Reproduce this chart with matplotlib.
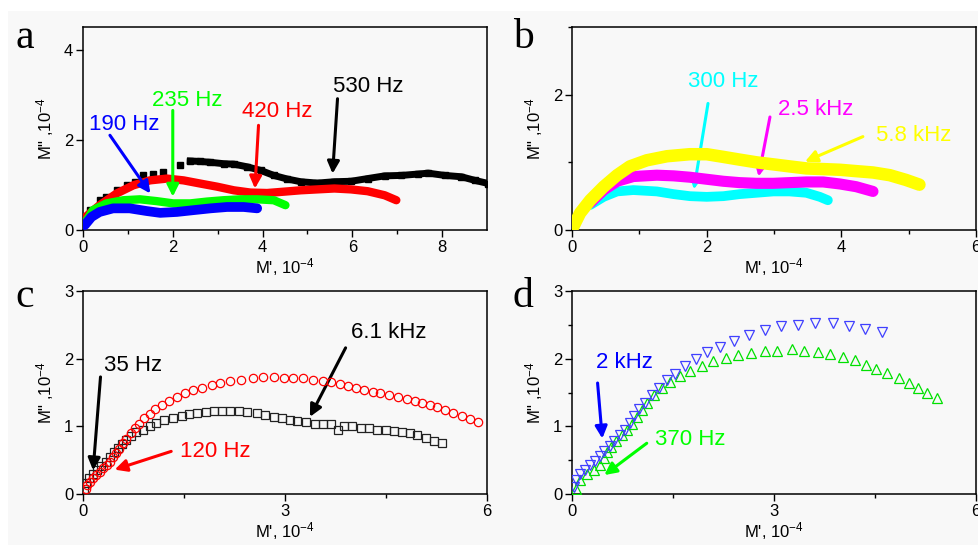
import numpy as np
import matplotlib
matplotlib.use("Agg")
import matplotlib.pyplot as plt
from matplotlib.patches import Rectangle

plt.rcParams['font.family'] = ['Liberation Sans', 'DejaVu Sans']
plt.rcParams['mathtext.fontset'] = 'custom'
plt.rcParams['mathtext.rm'] = 'Liberation Sans'
plt.rcParams['mathtext.it'] = 'Liberation Sans:italic'

# ---- panel a ----
a530_x = [0.16, 0.37, 0.52, 0.75, 0.97, 1.16, 1.34, 1.57, 1.79, 2.16, 2.39, 2.61, 2.84, 3.13, 3.36,
          3.66, 3.96, 4.25, 4.55, 4.85, 5.22, 5.60, 5.97, 6.34, 6.72, 7.09, 7.46, 7.69, 8.06, 8.43, 8.73, 9.03]
a530_y = [0.44, 0.66, 0.74, 0.88, 0.99, 1.07, 1.21, 1.25, 1.29, 1.45, 1.53, 1.52, 1.50, 1.47, 1.46,
          1.40, 1.32, 1.21, 1.13, 1.07, 1.04, 1.07, 1.08, 1.14, 1.20, 1.21, 1.24, 1.26, 1.21, 1.18, 1.10, 1.03]
a420_x = [0.05, 0.15, 0.37, 0.75, 1.12, 1.49, 1.87, 2.24, 2.61, 2.99, 3.36, 3.73, 4.10, 4.48, 4.85,
          5.22, 5.60, 5.97, 6.34, 6.72, 6.98]
a420_y = [0.28, 0.37, 0.55, 0.81, 0.99, 1.10, 1.14, 1.10, 1.03, 0.96, 0.88, 0.83, 0.82, 0.85, 0.88,
          0.90, 0.92, 0.90, 0.86, 0.77, 0.66]
a235_x = [0.04, 0.22, 0.52, 0.90, 1.27, 1.64, 2.01, 2.39, 2.76, 3.13, 3.51, 3.88, 4.25, 4.51]
a235_y = [0.15, 0.44, 0.59, 0.66, 0.68, 0.64, 0.59, 0.59, 0.63, 0.66, 0.68, 0.68, 0.66, 0.55]
a190_x = [0.04, 0.19, 0.37, 0.67, 1.04, 1.42, 1.72, 2.09, 2.46, 2.84, 3.21, 3.58, 3.88]
a190_y = [0.11, 0.29, 0.40, 0.48, 0.48, 0.42, 0.38, 0.40, 0.44, 0.48, 0.51, 0.51, 0.48]

# ---- panel b ----
b58_x = [0.02, 0.12, 0.27, 0.47, 0.67, 0.86, 1.11, 1.41, 1.75, 2.00, 2.25, 2.49, 2.74, 2.99, 3.23,
         3.48, 3.73, 3.98, 4.22, 4.47, 4.72, 4.96, 5.16]
b58_y = [0.05, 0.25, 0.44, 0.64, 0.81, 0.94, 1.03, 1.09, 1.12, 1.12, 1.08, 1.04, 1.00, 0.97, 0.94,
         0.91, 0.90, 0.89, 0.87, 0.85, 0.81, 0.74, 0.67]
b25_x = [0.27, 0.47, 0.67, 0.91, 1.26, 1.51, 1.75, 2.00, 2.25, 2.49, 2.74, 2.99, 3.23, 3.48, 3.73,
         3.98, 4.22, 4.47]
b25_y = [0.40, 0.59, 0.72, 0.79, 0.81, 0.80, 0.78, 0.75, 0.72, 0.70, 0.69, 0.69, 0.70, 0.71, 0.71,
         0.68, 0.64, 0.57]
b300_x = [0.27, 0.47, 0.67, 0.91, 1.26, 1.51, 1.75, 2.00, 2.25, 2.49, 2.74, 2.99, 3.23, 3.48, 3.68, 3.80]
b300_y = [0.37, 0.49, 0.57, 0.59, 0.57, 0.53, 0.50, 0.49, 0.50, 0.53, 0.55, 0.57, 0.57, 0.55, 0.49, 0.44]

# ---- panel c ----
c120_x = [0.04, 0.06, 0.10, 0.15, 0.20, 0.25, 0.30, 0.35, 0.40, 0.44, 0.49, 0.54, 0.59, 0.64, 0.71,
          0.77, 0.83, 0.91, 0.99, 1.07, 1.17, 1.28, 1.39, 1.51, 1.64, 1.77, 1.91, 2.04, 2.19, 2.34,
          2.52, 2.67, 2.83, 2.98, 3.12, 3.27, 3.42, 3.56, 3.68, 3.82, 3.93, 4.06, 4.18, 4.30, 4.41,
          4.55, 4.68, 4.81, 4.93, 5.04, 5.15, 5.26, 5.38, 5.50, 5.63, 5.75, 5.87]
c120_y = [0.07, 0.13, 0.18, 0.23, 0.28, 0.33, 0.38, 0.43, 0.48, 0.54, 0.60, 0.67, 0.75, 0.82, 0.90,
          0.97, 1.04, 1.12, 1.18, 1.25, 1.31, 1.38, 1.44, 1.49, 1.53, 1.57, 1.61, 1.64, 1.67, 1.69,
          1.72, 1.73, 1.73, 1.72, 1.72, 1.71, 1.69, 1.67, 1.65, 1.62, 1.60, 1.57, 1.54, 1.51, 1.49,
          1.46, 1.44, 1.41, 1.38, 1.35, 1.31, 1.28, 1.24, 1.20, 1.16, 1.11, 1.07]
c61_x = [0.02, 0.04, 0.09, 0.15, 0.21, 0.27, 0.34, 0.40, 0.46, 0.52, 0.58, 0.64, 0.72, 0.79, 0.89,
         0.99, 1.09, 1.21, 1.34, 1.47, 1.58, 1.69, 1.82, 1.94, 2.07, 2.19, 2.32, 2.44, 2.58, 2.70,
         2.83, 2.95, 3.07, 3.18, 3.31, 3.44, 3.56, 3.69, 3.79, 3.88, 4.00, 4.13, 4.25, 4.37, 4.50,
         4.62, 4.74, 4.86, 4.96, 5.09, 5.21, 5.33]
c61_y = [0.08, 0.16, 0.23, 0.30, 0.36, 0.42, 0.48, 0.55, 0.62, 0.68, 0.74, 0.80, 0.85, 0.91, 0.95,
         1.01, 1.05, 1.09, 1.13, 1.16, 1.18, 1.19, 1.21, 1.22, 1.22, 1.22, 1.22, 1.21, 1.19, 1.17,
         1.14, 1.12, 1.09, 1.08, 1.06, 1.04, 1.03, 1.03, 0.95, 1.01, 1.00, 0.98, 0.97, 0.95, 0.94,
         0.93, 0.91, 0.90, 0.87, 0.83, 0.79, 0.75]

# ---- panel d ----
d2k_x = [0.03, 0.06, 0.12, 0.19, 0.26, 0.34, 0.41, 0.48, 0.56, 0.63, 0.71, 0.78, 0.86, 0.92, 1.00,
         1.09, 1.19, 1.29, 1.41, 1.53, 1.68, 1.84, 2.01, 2.20, 2.41, 2.63, 2.87, 3.11, 3.36, 3.61,
         3.87, 4.11, 4.35, 4.60]
d2k_y = [0.11, 0.21, 0.30, 0.36, 0.43, 0.49, 0.56, 0.63, 0.71, 0.79, 0.87, 0.95, 1.05, 1.15, 1.25,
         1.35, 1.46, 1.57, 1.68, 1.78, 1.89, 2.00, 2.10, 2.17, 2.26, 2.35, 2.42, 2.48, 2.50, 2.53,
         2.52, 2.49, 2.44, 2.40]
d370_x = [0.06, 0.12, 0.22, 0.32, 0.42, 0.47, 0.52, 0.58, 0.66, 0.74, 0.82, 0.89, 0.96, 1.04, 1.12,
          1.22, 1.33, 1.46, 1.60, 1.75, 1.93, 2.10, 2.28, 2.46, 2.66, 2.86, 3.05, 3.26, 3.45, 3.65,
          3.83, 4.02, 4.20, 4.37, 4.52, 4.68, 4.85, 5.00, 5.14, 5.27, 5.42]
d370_y = [0.08, 0.21, 0.30, 0.36, 0.43, 0.53, 0.62, 0.70, 0.79, 0.87, 0.95, 1.04, 1.14, 1.24, 1.35,
          1.46, 1.56, 1.66, 1.74, 1.82, 1.89, 1.96, 2.01, 2.05, 2.09, 2.11, 2.12, 2.14, 2.12, 2.10,
          2.07, 2.02, 1.98, 1.91, 1.85, 1.79, 1.72, 1.64, 1.57, 1.50, 1.42]

W, H = 979, 545
fig = plt.figure(figsize=(W / 100, H / 100), dpi=100, facecolor='#f8f8f8')
fig.patches.append(Rectangle((0, 1 - 11 / H), 1, 11 / H, transform=fig.transFigure,
                             facecolor='white', edgecolor='none', zorder=-1))
fig.patches.append(Rectangle((0, 0), 8 / W, 1, transform=fig.transFigure,
                             facecolor='white', edgecolor='none', zorder=-1))


def make_ax(l, t, r, b):
    ax = fig.add_axes([l / W, 1 - b / H, (r - l) / W, (b - t) / H])
    ax.set_facecolor('#f8f8f8')
    for s in ax.spines.values():
        s.set_linewidth(1.1)
    ax.tick_params(which='major', direction='out', length=5, width=1, labelsize=12, pad=2,
                   top=False, right=False)
    ax.tick_params(which='minor', direction='out', length=3, width=1, top=False, right=False)
    ax.set_xlabel("M', 10$^{-4}$", fontsize=12, labelpad=1)
    ax.set_ylabel('M" ,10$^{-4}$', fontsize=12, labelpad=6)
    return ax


def arrow(ax, text, color, tx, ty, x0, y0, x1, y1):
    ax.text(tx, ty, text, color=color, fontsize=16, ha='center', va='center')
    ax.annotate('', xy=(x1, y1), xytext=(x0, y0),
                arrowprops=dict(arrowstyle='-|>', color=color, lw=2.2, mutation_scale=18,
                                shrinkA=0, shrinkB=0))


L1, R1, L2, R2 = 83, 487, 572, 976
T1, B1, T2, B2 = 27, 230, 291, 494

# a
ax = make_ax(L1, T1, R1, B1)
ax.plot(a530_x, a530_y, 's', color='black', ms=5, zorder=2)
ax.plot(a530_x[10:], a530_y[10:], '-', color='black', lw=5, zorder=2)
ax.plot(a420_x, a420_y, '-', color='#ff0000', lw=6, solid_capstyle='round', zorder=3)
ax.plot(a235_x, a235_y, '-', color='#00ff00', lw=6, solid_capstyle='round', zorder=4)
ax.plot(a190_x, a190_y, '-', color='#0000ff', lw=7, solid_capstyle='round', zorder=5)
ax.set_xlim(0, 9)
ax.set_ylim(0, 4.5)
ax.set_xticks([0, 2, 4, 6, 8])
ax.set_xticks([1, 3, 5, 7], minor=True)
ax.set_yticks([0, 2, 4])
arrow(ax, '190 Hz', '#0000ff', 0.92, 2.34, 0.60, 2.10, 1.50, 0.81)
arrow(ax, '235 Hz', '#00ff00', 2.32, 2.88, 2.00, 2.65, 2.00, 0.74)
arrow(ax, '420 Hz', '#ff0000', 4.33, 2.63, 3.91, 2.32, 3.83, 0.92)
arrow(ax, '530 Hz', 'black', 6.35, 3.18, 5.67, 2.91, 5.56, 1.25)

# b
ax = make_ax(L2, T1, R2, B1)
ax.plot(b300_x, b300_y, '-', color='#00ffff', lw=7, solid_capstyle='round', zorder=3)
ax.plot(b25_x, b25_y, '-', color='#ff00ff', lw=8, solid_capstyle='round', zorder=4)
ax.plot(b58_x, b58_y, '-', color='#ffff00', lw=9, solid_capstyle='round', zorder=5)
ax.set_xlim(0, 6)
ax.set_ylim(0, 3)
ax.set_xticks([0, 2, 4, 6])
ax.set_xticks([1, 3, 5], minor=True)
ax.set_yticks([0, 2])
ax.set_yticks([1, 3], minor=True)
arrow(ax, '300 Hz', '#00ffff', 2.25, 2.20, 2.02, 1.87, 1.81, 0.60)
arrow(ax, '2.5 kHz', '#ff00ff', 3.62, 1.78, 2.94, 1.67, 2.77, 0.79)
arrow(ax, '5.8 kHz', '#ffff00', 5.07, 1.39, 4.32, 1.38, 3.46, 1.01)

# c
ax = make_ax(L1, T2, R1, B2)
ax.plot(c61_x, c61_y, 's', mfc='none', mec='#222222', ms=5.5, mew=0.9, zorder=3)
ax.plot(c120_x, c120_y, 'o', mfc='none', mec='#ff0000', ms=6, mew=0.9, zorder=4)
ax.set_xlim(0, 6)
ax.set_ylim(0, 3)
ax.set_xticks([0, 3, 6])
ax.set_xticks([1.5, 4.5], minor=True)
ax.set_yticks([0, 1, 2, 3])
arrow(ax, '35 Hz', 'black', 0.74, 1.90, 0.26, 1.73, 0.15, 0.35)
arrow(ax, '120 Hz', '#ff0000', 1.97, 0.63, 1.31, 0.63, 0.47, 0.36)
arrow(ax, '6.1 kHz', 'black', 4.54, 2.38, 3.90, 2.16, 3.37, 1.14)

# d
ax = make_ax(L2, T2, R2, B2)
ax.plot(d370_x, d370_y, '^', mfc='none', mec='#00e000', ms=7, mew=0.9, zorder=3)
ax.plot(d2k_x, d2k_y, 'v', mfc='none', mec='#4040ff', ms=7, mew=0.9, zorder=4)
ax.set_xlim(0, 6)
ax.set_ylim(0, 3)
ax.set_xticks([0, 3, 6])
ax.set_xticks([1.5, 4.5], minor=True)
ax.set_yticks([0, 1, 2, 3])
ax.set_yticks([0.5, 1.5, 2.5], minor=True)
arrow(ax, '2 kHz', '#0000ff', 0.78, 1.94, 0.38, 1.64, 0.45, 0.82)
arrow(ax, '370 Hz', '#00ff00', 1.75, 0.81, 1.11, 0.75, 0.48, 0.28)

# panel letters
for lab, x, y in [('a', 25, 38), ('b', 523, 38), ('c', 25, 297), ('d', 523, 297)]:
    fig.text(x / W, 1 - y / H, lab, fontsize=30, family='Liberation Serif', ha='center', va='center')

fig.savefig('out.png', dpi=100, facecolor=fig.get_facecolor())
